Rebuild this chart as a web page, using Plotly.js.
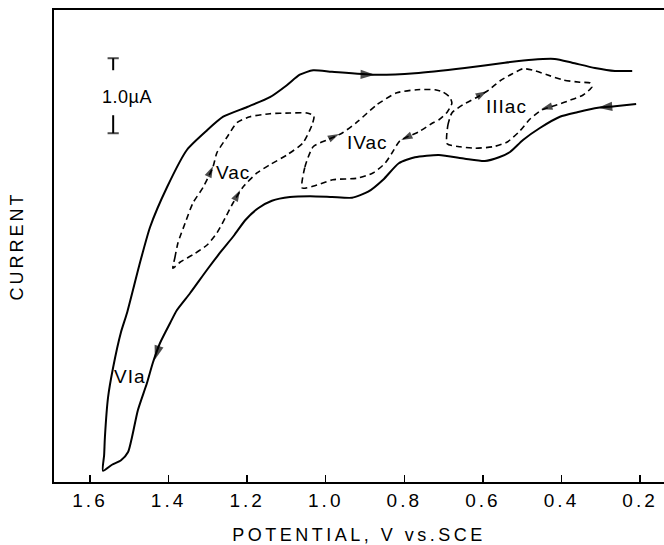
<!DOCTYPE html>
<html>
<head>
<meta charset="utf-8">
<script src="https://cdn.plot.ly/plotly-3.0.1.min.js"></script>
<style>html,body{margin:0;padding:0;background:#fff;}#chart{width:664px;height:545px;}</style>
</head>
<body>
<div id="chart"></div>
<script>
// Potential (V vs. SCE) and current (µA, arbitrary zero)
const outerV = [0.210,0.264,0.307,0.360,0.404,0.455,0.498,0.531,0.559,0.595,0.646,0.712,0.773,0.814,0.854,0.892,0.933,0.984,1.040,1.091,1.137,1.172,1.205,1.233,1.267,1.302,1.345,1.379,1.396,1.422,1.440,1.455,1.478,1.493,1.503,1.521,1.544,1.567,
  1.564,1.562,1.554,1.541,1.521,1.506,1.473,1.447,1.404,1.353,1.302,1.261,1.200,1.142,1.099,1.066,1.032,0.984,0.875,0.773,0.646,0.544,0.475,0.417,0.373,0.315,0.264,0.220];
const outerI = [5.04,5.01,4.99,4.93,4.87,4.72,4.56,4.40,4.33,4.28,4.31,4.36,4.33,4.25,4.03,3.87,3.79,3.80,3.81,3.80,3.75,3.65,3.49,3.29,3.07,2.83,2.52,2.29,2.12,1.85,1.59,1.32,0.96,0.60,0.40,0.29,0.23,0.15,
  0.36,0.60,1.13,1.53,2.00,2.25,2.92,3.40,3.93,4.43,4.69,4.87,5.00,5.13,5.29,5.43,5.49,5.47,5.43,5.45,5.52,5.59,5.63,5.64,5.59,5.52,5.48,5.48];

const vacV = [1.389,1.384,1.376,1.358,1.338,1.312,1.287,1.277,1.251,1.226,1.193,1.142,1.091,1.048,1.030,1.035,1.058,1.099,1.142,1.175,1.211,1.236,1.256,1.277,1.302,1.338,1.371,1.389];
const vacI = [2.85,2.99,3.19,3.45,3.72,3.93,4.20,4.39,4.60,4.79,4.87,4.91,4.92,4.92,4.88,4.76,4.52,4.36,4.23,4.12,3.93,3.72,3.52,3.32,3.16,3.03,2.93,2.85];

const ivacV = [1.060,1.053,1.032,0.997,0.959,0.920,0.870,0.819,0.768,0.722,0.702,0.684,0.679,0.691,0.712,0.727,0.763,0.811,0.831,0.849,0.880,0.920,0.982,1.022,1.060];
const ivacI = [3.92,4.20,4.47,4.56,4.65,4.80,5.03,5.19,5.23,5.23,5.20,5.13,5.05,4.93,4.83,4.79,4.67,4.55,4.39,4.25,4.12,4.05,4.03,3.96,3.92];

const iiiacV = [0.691,0.689,0.679,0.651,0.615,0.584,0.556,0.526,0.498,0.472,0.437,0.396,0.353,0.327,0.322,0.345,0.378,0.411,0.450,0.480,0.506,0.539,0.574,0.620,0.658,0.691];
const iiiacI = [4.51,4.76,4.92,5.03,5.13,5.23,5.35,5.44,5.51,5.49,5.43,5.36,5.33,5.32,5.27,5.16,5.09,5.03,4.96,4.84,4.68,4.53,4.47,4.45,4.47,4.51];

// Arrowheads: tail point -> head point (direction of the scan)
const arrowTailV = [0.940,0.264,1.422,1.312,1.236,0.997,0.763,0.651,0.411];
const arrowTailI = [5.44,5.01,1.85,3.93,3.72,4.56,4.67,5.03,5.03];
const arrowHeadV = [0.875,0.307,1.435,1.287,1.218,0.966,0.808,0.590,0.452];
const arrowHeadI = [5.43,4.99,1.63,4.21,3.89,4.64,4.56,5.21,4.97];
const arrowSolid = [true,true,true,false,false,false,false,false,false];

// Peak labels
const labelText = ["Vac","IVac","IIIac","VIa"];
const labelV = [1.236,0.895,0.539,1.498];
const labelI = [4.13,4.53,5.00,1.40];

// 1.0 µA scale bar
const scaleV = [1.541,1.541,null,1.541,1.541];
const scaleI = [5.65,5.49,null,4.89,4.65];
const scaleLabel = "1.0\u00b5A";
const scaleLabelV = 1.506, scaleLabelI = 5.13;

const tickVals = [1.6,1.4,1.2,1.0,0.8,0.6,0.4,0.2];
const tickLabels = ["1.6","1.4","1.2","1.0","0.8","0.6","0.4","0.2"];

const FONT = "Liberation Sans, Arial, sans-serif";
const sp = (t, px) => '<span style="letter-spacing:' + px + 'px">' + t + '</span>';

const traces = [
  {x: outerV, y: outerI, mode: 'lines', line: {color: '#000', width: 2, shape: 'spline', smoothing: 0.6}, hoverinfo: 'skip'},
  {x: vacV, y: vacI, mode: 'lines', line: {color: '#000', width: 1.6, dash: '6px,4px', shape: 'spline', smoothing: 0.6}, hoverinfo: 'skip'},
  {x: ivacV, y: ivacI, mode: 'lines', line: {color: '#000', width: 1.6, dash: '6px,4px', shape: 'spline', smoothing: 0.6}, hoverinfo: 'skip'},
  {x: iiiacV, y: iiiacI, mode: 'lines', line: {color: '#000', width: 1.6, dash: '6px,4px', shape: 'spline', smoothing: 0.6}, hoverinfo: 'skip'},
  {x: scaleV, y: scaleI, mode: 'lines+markers', line: {color: '#000', width: 2},
   marker: {symbol: 'line-ew-open', size: [8,0,0,0,8], color: '#000', line: {color: '#000', width: 2}}, hoverinfo: 'skip'}
];
for (let k = 0; k < arrowHeadV.length; k++) {
  traces.push({
    x: [arrowTailV[k], arrowHeadV[k]], y: [arrowTailI[k], arrowHeadI[k]],
    mode: 'markers',
    marker: {symbol: 'arrow', angleref: 'previous', size: [0, arrowSolid[k] ? 15 : 12], color: '#000', line: {width: 0}},
    hoverinfo: 'skip'
  });
}

const annotations = labelText.map((t, k) => ({
  x: labelV[k], y: labelI[k], xref: 'x', yref: 'y', text: sp(t, 1), showarrow: false,
  font: {family: FONT, size: 19, color: '#000'}
}));
annotations.push({x: scaleLabelV, y: scaleLabelI, xref: 'x', yref: 'y', text: sp(scaleLabel, 0.5), showarrow: false,
  font: {family: FONT, size: 18, color: '#000'}});

const layout = {
  width: 664, height: 545,
  margin: {l: 54, r: 0, t: 10, b: 63},
  paper_bgcolor: '#fff', plot_bgcolor: '#fff',
  showlegend: false,
  font: {family: FONT, color: '#000'},
  xaxis: {
    range: [1.6916, 0.1391], autorange: false,
    tickmode: 'array', tickvals: tickVals, ticktext: tickLabels.map(t => sp(t, 3)),
    ticks: 'inside', ticklen: 7, tickwidth: 1.5, tickcolor: '#000',
    showline: true, linecolor: '#000', linewidth: 2, mirror: true,
    showgrid: false, zeroline: false,
    tickfont: {family: FONT, size: 19, color: '#000'},
    title: {text: sp('POTENTIAL, V vs.SCE', 3.5), font: {family: FONT, size: 18, color: '#000'}, standoff: 20}
  },
  yaxis: {
    range: [0, 6.293], autorange: false,
    showticklabels: false, ticks: '',
    showline: true, linecolor: '#000', linewidth: 2, mirror: false,
    showgrid: false, zeroline: false,
    title: {text: sp('CURRENT', 3), font: {family: FONT, size: 18, color: '#000'}, standoff: 24}
  },
  annotations: annotations
};

Plotly.newPlot('chart', traces, layout, {staticPlot: true, displayModeBar: false});
</script>
</body>
</html>
